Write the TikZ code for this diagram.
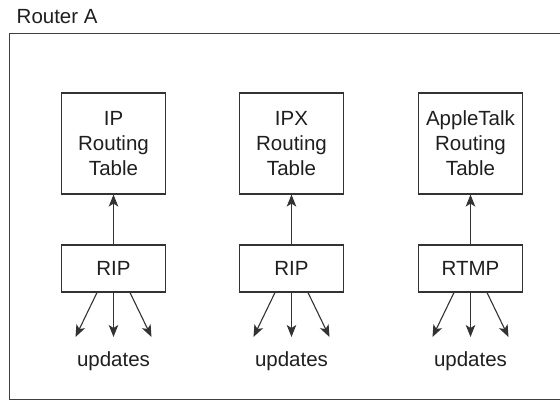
\documentclass[tikz,border=0pt]{standalone}
\usepackage{fontspec}
\setmainfont{Liberation Sans}
\usepackage{tikz}
\usepackage{xcolor}
\usetikzlibrary{arrows.meta, positioning}

\begin{document}
\begin{tikzpicture}[
  x=1pt, y=-1pt,
  font=\fontsize{20.5}{25}\selectfont,
  every node/.style={text=black!88},
  tbl/.style={draw=black!80, line width=1.1pt, minimum width=104pt, minimum height=101pt, align=center, inner sep=0pt},
  proto/.style={draw=black!80, line width=1.1pt, minimum width=104pt, minimum height=47pt, inner sep=0pt},
  arr/.style={draw=black!80, line width=1.1pt, -{Stealth[length=12pt, width=9.5pt, inset=3pt]}}
]
\useasboundingbox (0,0) rectangle (560,400);
\draw[draw=black!75, line width=1.1pt] (575,33.5) -- (9.5,33.5) -- (9.5,399.5) -- (575,399.5);
\node[anchor=base west, inner sep=0pt] (router) at (16.5,23) {Router A};
\foreach \i/\x/\net/\prot in {1/113.5/{IP}/{RIP},2/291.5/{IPX}/{RIP},3/470.5/{AppleTalk}/{RTMP}} {
  \node[tbl] (tab\i) at (\x,143.5) {\net\\Routing\\Table};
  \node[proto] (prot\i) at (\x,268.5) {\prot};
  \node[inner sep=0pt] (upd\i) at (\x,361) {updates};
  \coordinate (l\i) at ({\x-38},337);
  \coordinate (m\i) at (\x,337);
  \coordinate (r\i) at ({\x+38},337);
  \draw[arr] (prot\i) -- (tab\i);
  \draw[arr] ([xshift=-16.5pt]prot\i.south) -- (l\i);
  \draw[arr] (prot\i.south) -- (m\i);
  \draw[arr] ([xshift=16.5pt]prot\i.south) -- (r\i);
}
\end{tikzpicture}
\end{document}
